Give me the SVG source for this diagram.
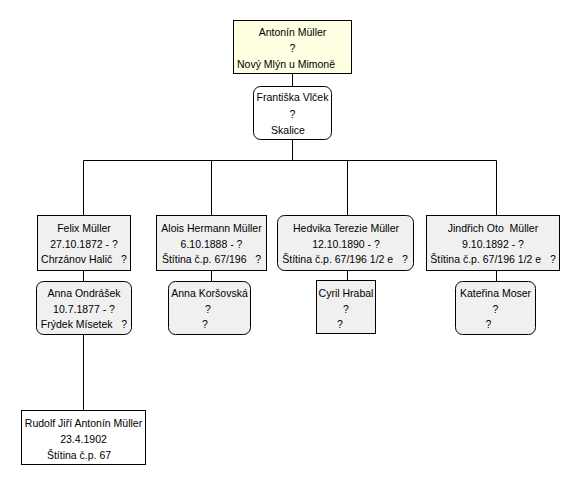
<svg xmlns="http://www.w3.org/2000/svg" width="585" height="485" viewBox="0 0 585 485">
<style>
text{font-family:"Liberation Sans",Arial,sans-serif;font-size:10.5px;fill:#000;text-anchor:middle;white-space:pre}
.box{stroke:#000;stroke-width:1}
.root{fill:#ffffe1}
.w{fill:#fff}
.g{fill:#f0f0f0}
.con{stroke:#000;stroke-width:1;fill:none}
</style>
<rect width="585" height="485" fill="#fff"/>
<g id="connectors" class="con">
<path d="M292.5 73V86M292.5 139V160.5M83.5 160.5H496.5M83.5 160.5V215M211.5 160.5V215M347.5 160.5V215M496.5 160.5V215M83.5 270V281M211.5 270V281M347.5 270V281M496.5 270V281M83.5 334V410"/>
</g>
<g id="n-antonin">
<rect class="box root" x="233.5" y="20.5" width="118" height="53"/>
<text x="292.5" y="36">Antonín Müller</text>
<text x="292.5" y="52">?</text>
<text x="286" y="68">Nový Mlýn u Mimoně</text>
</g>
<g id="n-frantiska">
<rect class="box w" x="253.5" y="86.5" width="78" height="53" rx="7"/>
<text x="292.5" y="101">Františka Vlček</text>
<text x="292.5" y="117.5">?</text>
<text x="288" y="134">Skalice</text>
</g>
<g id="n-felix">
<rect class="box g" x="37.5" y="215.5" width="93" height="55"/>
<text x="84" y="232">Felix Müller</text>
<text x="84" y="247.5">27.10.1872 - ?</text>
<text x="84" y="263">Chrzánov Halič   ?</text>
</g>
<g id="n-anna-o">
<rect class="box g" x="36.5" y="281.5" width="95" height="53" rx="7"/>
<text x="84" y="297">Anna Ondrášek</text>
<text x="84" y="312.5">10.7.1877 - ?</text>
<text x="84" y="328">Frýdek Mísetek   ?</text>
</g>
<g id="n-rudolf">
<rect class="box w" x="21.5" y="410.5" width="124" height="54"/>
<text x="83.5" y="427">Rudolf Jiří Antonín Müller</text>
<text x="83.5" y="443">23.4.1902</text>
<text x="79" y="459">Štítina č.p. 67</text>
</g>
<g id="n-alois">
<rect class="box g" x="156.5" y="215.5" width="110" height="55"/>
<text x="211.5" y="232">Alois Hermann Müller</text>
<text x="211.5" y="247.5">6.10.1888 - ?</text>
<text x="211.5" y="263">Štítina č.p. 67/196   ?</text>
</g>
<g id="n-anna-k">
<rect class="box g" x="168.5" y="281.5" width="82" height="53" rx="7"/>
<text x="209.5" y="297">Anna Koršovská</text>
<text x="208" y="312.5">?</text>
<text x="205" y="328">?</text>
</g>
<g id="n-hedvika">
<rect class="box g" x="277.5" y="215.5" width="136" height="55" rx="7"/>
<text x="346" y="232">Hedvika Terezie Müller</text>
<text x="346" y="247.5">12.10.1890 - ?</text>
<text x="345" y="263">Štítina č.p. 67/196 1/2 e   ?</text>
</g>
<g id="n-cyril">
<rect class="box g" x="316.5" y="280.5" width="59" height="53"/>
<text x="346" y="297">Cyril Hrabal</text>
<text x="346" y="312.5">?</text>
<text x="340" y="328">?</text>
</g>
<g id="n-jindrich">
<rect class="box g" x="426.5" y="215.5" width="133" height="55"/>
<text x="493" y="232">Jindřich Oto  Müller</text>
<text x="493" y="247.5">9.10.1892 - ?</text>
<text x="493" y="263">Štítina č.p. 67/196 1/2 e   ?</text>
</g>
<g id="n-katerina">
<rect class="box g" x="455.5" y="281.5" width="80" height="53" rx="7"/>
<text x="495.5" y="297">Kateřina Moser</text>
<text x="495.5" y="312.5">?</text>
<text x="488.5" y="328">?</text>
</g>
</svg>
